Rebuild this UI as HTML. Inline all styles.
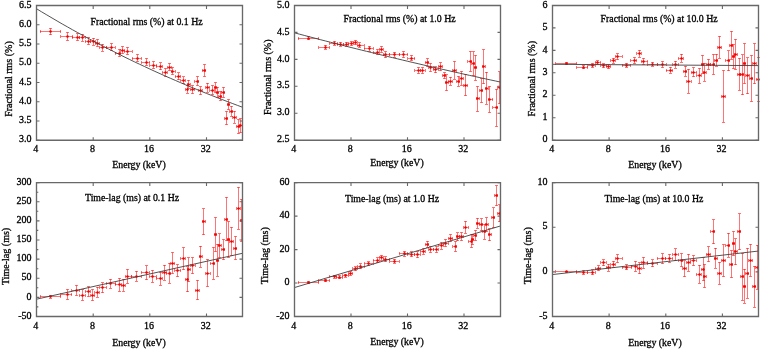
<!DOCTYPE html><html><head><meta charset="utf-8"><style>html,body{margin:0;padding:0;background:#fff;width:760px;height:349px;overflow:hidden}svg{display:block}text{font-family:"Liberation Serif",serif;fill:#000;stroke:#000;stroke-width:0.3px}svg{will-change:transform}</style></head><body>
<svg width="760" height="349" viewBox="0 0 760 349">
<path d="M40.0 31.5H60.8M50.5 28.3V34.9M49.0 28.5H52.0M49.0 34.5H52.0M40.5 30.0V33.0M60.5 30.0V33.0M60.8 36.5H72.0M67.5 32.4V40.4M66.0 32.5H69.0M66.0 40.5H69.0M60.5 35.0V38.0M72.5 35.0V38.0M72.0 37.5H79.7M77.5 33.5V40.5M76.0 33.5H79.0M76.0 40.5H79.0M72.5 36.0V39.0M79.5 36.0V39.0M79.7 37.5H85.2M82.5 34.1V41.1M81.0 34.5H84.0M81.0 41.5H84.0M79.5 36.0V39.0M85.5 36.0V39.0M85.2 41.5H90.5M88.5 37.5V44.5M87.0 37.5H90.0M87.0 44.5H90.0M85.5 40.0V43.0M90.5 40.0V43.0M90.5 41.5H95.0M93.5 38.1V45.1M92.0 38.5H95.0M92.0 45.5H95.0M90.5 40.0V43.0M95.5 40.0V43.0M95.0 43.5H99.5M97.5 39.5V46.5M96.0 39.5H99.0M96.0 46.5H99.0M95.5 42.0V45.0M99.5 42.0V45.0M99.5 47.5H106.5M102.5 44.1V51.1M101.0 44.5H104.0M101.0 51.5H104.0M99.5 46.0V49.0M106.5 46.0V49.0M106.5 47.5H115.0M111.5 43.5V50.5M110.0 43.5H113.0M110.0 50.5H113.0M106.5 46.0V49.0M115.5 46.0V49.0M115.0 53.5H120.7M119.5 49.5V56.5M118.0 49.5H121.0M118.0 56.5H121.0M115.5 52.0V55.0M120.5 52.0V55.0M120.7 50.5H124.7M122.5 46.5V53.5M121.0 46.5H124.0M121.0 53.5H124.0M120.5 49.0V52.0M124.5 49.0V52.0M124.7 51.5H132.0M127.5 47.5V54.5M126.0 47.5H129.0M126.0 54.5H129.0M124.5 50.0V53.0M132.5 50.0V53.0M132.0 58.5H141.5M137.5 54.5V61.5M136.0 54.5H139.0M136.0 61.5H139.0M132.5 57.0V60.0M141.5 57.0V60.0M141.5 62.5H149.8M146.5 58.5V65.5M145.0 58.5H148.0M145.0 65.5H148.0M141.5 61.0V64.0M149.5 61.0V64.0M149.8 65.5H156.8M153.5 61.5V68.5M152.0 61.5H155.0M152.0 68.5H155.0M149.5 64.0V67.0M156.5 64.0V67.0M156.8 66.5H162.5M160.5 62.9V69.9M159.0 62.5H162.0M159.0 69.5H162.0M156.5 65.0V68.0M162.5 65.0V68.0M162.5 72.5H167.3M165.5 68.4V76.4M164.0 68.5H167.0M164.0 76.5H167.0M162.5 71.0V74.0M167.5 71.0V74.0M167.3 67.5H171.0M169.5 63.5V70.5M168.0 63.5H171.0M168.0 70.5H171.0M167.5 66.0V69.0M171.5 66.0V69.0M171.0 71.5H175.2M172.5 67.5V74.5M171.0 67.5H174.0M171.0 74.5H174.0M171.5 70.0V73.0M175.5 70.0V73.0M175.2 76.5H180.8M178.5 72.9V79.9M177.0 72.5H180.0M177.0 79.5H180.0M175.5 75.0V78.0M180.5 75.0V78.0M180.8 80.5H185.5M183.5 76.9V83.9M182.0 76.5H185.0M182.0 83.5H185.0M180.5 79.0V82.0M185.5 79.0V82.0M185.5 89.5H187.7M187.5 85.0V93.0M186.0 85.5H189.0M186.0 93.5H189.0M185.5 88.0V91.0M187.5 88.0V91.0M187.7 84.5H190.2M188.5 80.0V88.0M187.0 80.5H190.0M187.0 88.5H190.0M187.5 83.0V86.0M190.5 83.0V86.0M190.2 89.5H194.7M192.5 85.6V93.6M191.0 85.5H194.0M191.0 93.5H194.0M190.5 88.0V91.0M194.5 88.0V91.0M194.7 81.5H198.5M197.5 76.5V85.5M196.0 76.5H199.0M196.0 85.5H199.0M194.5 80.0V83.0M198.5 80.0V83.0M198.5 90.5H202.0M200.5 86.6V94.6M199.0 86.5H202.0M199.0 94.5H202.0M198.5 89.0V92.0M202.5 89.0V92.0M202.0 70.5H205.7M204.5 64.5V76.5M203.0 64.5H206.0M203.0 76.5H206.0M202.5 69.0V72.0M205.5 69.0V72.0M205.7 87.5H209.9M207.5 83.1V92.1M206.0 83.5H209.0M206.0 92.5H209.0M205.5 86.0V89.0M209.5 86.0V89.0M209.9 90.5H214.0M212.5 85.5V94.5M211.0 85.5H214.0M211.0 94.5H214.0M209.5 89.0V92.0M214.5 89.0V92.0M214.0 87.5H216.5M215.5 82.6V92.6M214.0 82.5H217.0M214.0 92.5H217.0M214.5 86.0V89.0M216.5 86.0V89.0M216.5 92.5H218.7M217.5 87.0V97.0M216.0 87.5H219.0M216.0 97.5H219.0M216.5 91.0V94.0M218.5 91.0V94.0M218.7 96.5H221.5M220.5 91.5V100.5M219.0 91.5H222.0M219.0 100.5H222.0M218.5 95.0V98.0M221.5 95.0V98.0M221.5 92.5H224.7M223.5 87.4V97.4M222.0 87.5H225.0M222.0 97.5H225.0M221.5 91.0V94.0M224.5 91.0V94.0M224.7 118.5H227.2M226.5 111.4V124.6M225.0 111.5H228.0M225.0 124.5H228.0M224.5 117.0V120.0M227.5 117.0V120.0M227.2 104.5H229.6M228.5 99.6V109.6M227.0 99.5H230.0M227.0 109.5H230.0M227.5 103.0V106.0M229.5 103.0V106.0M229.6 111.5H232.9M231.5 106.2V116.2M230.0 106.5H233.0M230.0 116.5H233.0M229.5 110.0V113.0M232.5 110.0V113.0M232.9 117.5H236.4M234.5 111.0V123.0M233.0 111.5H236.0M233.0 123.5H236.0M232.5 116.0V119.0M236.5 116.0V119.0M236.4 126.5H239.4M238.5 119.5V133.5M237.0 119.5H240.0M237.0 133.5H240.0M236.5 125.0V128.0M239.5 125.0V128.0M239.4 125.5H242.2M240.5 118.7V132.7M239.0 118.5H242.0M239.0 132.5H242.0M239.5 124.0V127.0" stroke="#ff0000" stroke-width="0.75" fill="none" opacity="0.72"/>
<g fill="#f00000"><circle cx="50.5" cy="31.5" r="1.25"/><circle cx="67.5" cy="36.5" r="1.25"/><circle cx="77.5" cy="37.5" r="1.25"/><circle cx="82.5" cy="37.5" r="1.25"/><circle cx="88.5" cy="41.5" r="1.25"/><circle cx="93.5" cy="41.5" r="1.25"/><circle cx="97.5" cy="43.5" r="1.25"/><circle cx="102.5" cy="47.5" r="1.25"/><circle cx="111.5" cy="47.5" r="1.25"/><circle cx="119.5" cy="53.5" r="1.25"/><circle cx="122.5" cy="50.5" r="1.25"/><circle cx="127.5" cy="51.5" r="1.25"/><circle cx="137.5" cy="58.5" r="1.25"/><circle cx="146.5" cy="62.5" r="1.25"/><circle cx="153.5" cy="65.5" r="1.25"/><circle cx="160.5" cy="66.5" r="1.25"/><circle cx="165.5" cy="72.5" r="1.25"/><circle cx="169.5" cy="67.5" r="1.25"/><circle cx="172.5" cy="71.5" r="1.25"/><circle cx="178.5" cy="76.5" r="1.25"/><circle cx="183.5" cy="80.5" r="1.25"/><circle cx="187.5" cy="89.5" r="1.25"/><circle cx="188.5" cy="84.5" r="1.25"/><circle cx="192.5" cy="89.5" r="1.25"/><circle cx="197.5" cy="81.5" r="1.25"/><circle cx="200.5" cy="90.5" r="1.25"/><circle cx="204.5" cy="70.5" r="1.25"/><circle cx="207.5" cy="87.5" r="1.25"/><circle cx="212.5" cy="90.5" r="1.25"/><circle cx="215.5" cy="87.5" r="1.25"/><circle cx="217.5" cy="92.5" r="1.25"/><circle cx="220.5" cy="96.5" r="1.25"/><circle cx="223.5" cy="92.5" r="1.25"/><circle cx="226.5" cy="118.5" r="1.25"/><circle cx="228.5" cy="104.5" r="1.25"/><circle cx="231.5" cy="111.5" r="1.25"/><circle cx="234.5" cy="117.5" r="1.25"/><circle cx="238.5" cy="126.5" r="1.25"/><circle cx="240.5" cy="125.5" r="1.25"/></g>
<polyline points="36.5,8.72 41.6,11.84 46.8,14.92 52.0,17.97 57.1,20.97 62.2,23.94 67.4,26.87 72.5,29.76 77.7,32.62 82.8,35.44 88.0,38.22 93.2,40.97 98.3,43.69 103.5,46.37 108.6,49.01 113.8,51.62 118.9,54.20 124.0,56.75 129.2,59.27 134.3,61.75 139.5,64.20 144.7,66.62 149.8,69.01 154.9,71.37 160.1,73.70 165.2,76.00 170.4,78.27 175.6,80.52 180.7,82.73 185.8,84.92 191.0,87.08 196.2,89.21 201.3,91.31 206.4,93.39 211.6,95.44 216.8,97.47 221.9,99.47 227.1,101.44 232.2,103.39 237.3,105.32 242.5,107.22" stroke="#404040" stroke-width="0.9" fill="none"/>
<path d="M36.5 5.5H242.5V140.2H36.5Z" stroke="#686868" stroke-width="1.35" fill="none"/>
<path d="M36.5 5.5h3M242.5 5.5h-3M36.5 24.7h3M242.5 24.7h-3M36.5 44.0h3M242.5 44.0h-3M36.5 63.2h3M242.5 63.2h-3M36.5 82.5h3M242.5 82.5h-3M36.5 101.7h3M242.5 101.7h-3M36.5 121.0h3M242.5 121.0h-3M36.5 140.2h3M242.5 140.2h-3M93.2 5.5v3.5M93.2 140.2v-3M149.8 5.5v3.5M149.8 140.2v-3M206.5 5.5v3.5M206.5 140.2v-3" stroke="#686868" stroke-width="1.1" fill="none"/>
<text x="31.5" y="7.6" font-size="10" text-anchor="end">6.5</text>
<text x="31.5" y="26.8" font-size="10" text-anchor="end">6.0</text>
<text x="31.5" y="46.1" font-size="10" text-anchor="end">5.5</text>
<text x="31.5" y="65.3" font-size="10" text-anchor="end">5.0</text>
<text x="31.5" y="84.6" font-size="10" text-anchor="end">4.5</text>
<text x="31.5" y="103.8" font-size="10" text-anchor="end">4.0</text>
<text x="31.5" y="123.1" font-size="10" text-anchor="end">3.5</text>
<text x="31.5" y="142.3" font-size="10" text-anchor="end">3.0</text>
<text x="35.7" y="151.5" font-size="10" text-anchor="middle">4</text>
<text x="92.4" y="151.5" font-size="10" text-anchor="middle">8</text>
<text x="149.0" y="151.5" font-size="10" text-anchor="middle">16</text>
<text x="205.7" y="151.5" font-size="10" text-anchor="middle">32</text>
<text x="139.0" y="167.5" font-size="9.8" text-anchor="middle">Energy (keV)</text>
<text x="90.5" y="24.5" font-size="9.8">Fractional rms (%) at 0.1 Hz</text>
<text transform="translate(11.6 116.8) rotate(-90)" font-size="10">Fractional rms (%)</text>
<path d="M298.0 38.5H318.8M308.5 36.5V39.5M307.0 36.5H310.0M307.0 39.5H310.0M298.5 37.0V40.0M318.5 37.0V40.0M318.8 47.5H329.5M325.5 45.0V49.0M324.0 45.5H327.0M324.0 49.5H327.0M318.5 46.0V49.0M329.5 46.0V49.0M329.5 43.5H337.0M334.5 41.0V45.0M333.0 41.5H336.0M333.0 45.5H336.0M329.5 42.0V45.0M337.5 42.0V45.0M337.0 44.5H343.0M340.5 42.0V46.0M339.0 42.5H342.0M339.0 46.5H342.0M337.5 43.0V46.0M343.5 43.0V46.0M343.0 44.5H348.5M346.5 42.0V46.0M345.0 42.5H348.0M345.0 46.5H348.0M343.5 43.0V46.0M348.5 43.0V46.0M348.5 43.5H353.0M351.5 41.6V45.6M350.0 41.5H353.0M350.0 45.5H353.0M348.5 42.0V45.0M353.5 42.0V45.0M353.0 42.5H357.0M355.5 40.4V44.8M354.0 40.5H357.0M354.0 44.5H357.0M353.5 41.0V44.0M357.5 41.0V44.0M357.0 45.5H364.0M359.5 42.8V47.2M358.0 42.5H361.0M358.0 47.5H361.0M357.5 44.0V47.0M364.5 44.0V47.0M364.0 48.5H373.3M369.5 46.1V51.1M368.0 46.5H371.0M368.0 51.5H371.0M364.5 47.0V50.0M373.5 47.0V50.0M373.3 52.5H379.3M377.5 49.5V54.5M376.0 49.5H379.0M376.0 54.5H379.0M373.5 51.0V54.0M379.5 51.0V54.0M379.3 49.5H383.0M381.5 46.4V52.4M380.0 46.5H383.0M380.0 52.5H383.0M379.5 48.0V51.0M383.5 48.0V51.0M383.0 54.5H389.7M385.5 51.6V57.6M384.0 51.5H387.0M384.0 57.5H387.0M383.5 53.0V56.0M389.5 53.0V56.0M389.7 54.5H399.1M394.5 52.1V57.1M393.0 52.5H396.0M393.0 57.5H396.0M389.5 53.0V56.0M399.5 53.0V56.0M399.1 54.5H407.9M403.5 51.5V57.5M402.0 51.5H405.0M402.0 57.5H405.0M399.5 53.0V56.0M407.5 53.0V56.0M407.9 58.5H414.9M411.5 55.5V60.5M410.0 55.5H413.0M410.0 60.5H413.0M407.5 57.0V60.0M414.5 57.0V60.0M414.9 70.5H420.4M418.5 67.5V73.5M417.0 67.5H420.0M417.0 73.5H420.0M414.5 69.0V72.0M420.5 69.0V72.0M420.4 70.5H425.0M422.5 67.5V73.5M421.0 67.5H424.0M421.0 73.5H424.0M420.5 69.0V72.0M425.5 69.0V72.0M425.0 62.5H428.7M427.5 58.6V66.6M426.0 58.5H429.0M426.0 66.5H429.0M425.5 61.0V64.0M428.5 61.0V64.0M428.7 67.5H433.0M430.5 63.5V71.5M429.0 63.5H432.0M429.0 71.5H432.0M428.5 66.0V69.0M433.5 66.0V69.0M433.0 69.5H438.4M435.5 66.8V72.8M434.0 66.5H437.0M434.0 72.5H437.0M433.5 68.0V71.0M438.5 68.0V71.0M438.4 66.5H442.5M440.5 62.7V70.7M439.0 62.5H442.0M439.0 70.5H442.0M438.5 65.0V68.0M442.5 65.0V68.0M442.5 75.5H445.1M444.5 72.6V78.6M443.0 72.5H446.0M443.0 78.5H446.0M442.5 74.0V77.0M445.5 74.0V77.0M445.1 82.5H448.2M446.5 74.8V90.6M445.0 74.5H448.0M445.0 90.5H448.0M445.5 81.0V84.0M448.5 81.0V84.0M448.2 81.5H452.5M450.5 77.0V85.0M449.0 77.5H452.0M449.0 85.5H452.0M448.5 80.0V83.0M452.5 80.0V83.0M452.5 70.5H456.4M454.5 61.4V79.0M453.0 61.5H456.0M453.0 79.5H456.0M452.5 69.0V72.0M456.5 69.0V72.0M456.4 81.5H459.9M458.5 76.2V86.2M457.0 76.5H460.0M457.0 86.5H460.0M456.5 80.0V83.0M459.5 80.0V83.0M459.9 78.5H463.4M461.5 71.3V85.3M460.0 71.5H463.0M460.0 85.5H463.0M459.5 77.0V80.0M463.5 77.0V80.0M463.4 85.5H467.9M465.5 74.3V95.7M464.0 74.5H467.0M464.0 95.5H467.0M463.5 84.0V87.0M467.5 84.0V87.0M467.9 61.5H471.8M470.5 51.4V71.4M469.0 51.5H472.0M469.0 71.5H472.0M467.5 60.0V63.0M471.5 60.0V63.0M471.8 63.5H474.0M473.5 51.7V75.7M472.0 51.5H475.0M472.0 75.5H475.0M471.5 62.0V65.0M474.5 62.0V65.0M474.0 67.5H476.4M475.5 55.3V80.3M474.0 55.5H477.0M474.0 80.5H477.0M474.5 66.0V69.0M476.5 66.0V69.0M476.4 98.5H479.6M477.5 86.4V111.4M476.0 86.5H479.0M476.0 111.5H479.0M476.5 97.0V100.0M479.5 97.0V100.0M479.6 90.5H482.6M481.5 78.5V102.5M480.0 78.5H483.0M480.0 102.5H483.0M479.5 89.0V92.0M482.5 89.0V92.0M482.6 66.5H485.1M483.5 49.7V83.7M482.0 49.5H485.0M482.0 83.5H485.0M482.5 65.0V68.0M485.5 65.0V68.0M485.1 88.5H488.1M486.5 72.0V104.0M485.0 72.5H488.0M485.0 104.5H488.0M485.5 87.0V90.0M488.5 87.0V90.0M488.1 99.5H492.9M489.5 86.4V112.4M488.0 86.5H491.0M488.0 112.5H491.0M488.5 98.0V101.0M492.5 98.0V101.0M492.9 107.5H497.6M496.5 89.2V126.4M495.0 89.5H498.0M495.0 126.5H498.0M492.5 106.0V109.0M497.5 106.0V109.0M497.6 87.5H500.5M499.5 71.7V103.7M498.0 71.5H501.0M498.0 103.5H501.0M497.5 86.0V89.0" stroke="#ff0000" stroke-width="0.75" fill="none" opacity="0.72"/>
<g fill="#f00000"><circle cx="308.5" cy="38.5" r="1.25"/><circle cx="325.5" cy="47.5" r="1.25"/><circle cx="334.5" cy="43.5" r="1.25"/><circle cx="340.5" cy="44.5" r="1.25"/><circle cx="346.5" cy="44.5" r="1.25"/><circle cx="351.5" cy="43.5" r="1.25"/><circle cx="355.5" cy="42.5" r="1.25"/><circle cx="359.5" cy="45.5" r="1.25"/><circle cx="369.5" cy="48.5" r="1.25"/><circle cx="377.5" cy="52.5" r="1.25"/><circle cx="381.5" cy="49.5" r="1.25"/><circle cx="385.5" cy="54.5" r="1.25"/><circle cx="394.5" cy="54.5" r="1.25"/><circle cx="403.5" cy="54.5" r="1.25"/><circle cx="411.5" cy="58.5" r="1.25"/><circle cx="418.5" cy="70.5" r="1.25"/><circle cx="422.5" cy="70.5" r="1.25"/><circle cx="427.5" cy="62.5" r="1.25"/><circle cx="430.5" cy="67.5" r="1.25"/><circle cx="435.5" cy="69.5" r="1.25"/><circle cx="440.5" cy="66.5" r="1.25"/><circle cx="444.5" cy="75.5" r="1.25"/><circle cx="446.5" cy="82.5" r="1.25"/><circle cx="450.5" cy="81.5" r="1.25"/><circle cx="454.5" cy="70.5" r="1.25"/><circle cx="458.5" cy="81.5" r="1.25"/><circle cx="461.5" cy="78.5" r="1.25"/><circle cx="465.5" cy="85.5" r="1.25"/><circle cx="470.5" cy="61.5" r="1.25"/><circle cx="473.5" cy="63.5" r="1.25"/><circle cx="475.5" cy="67.5" r="1.25"/><circle cx="477.5" cy="98.5" r="1.25"/><circle cx="481.5" cy="90.5" r="1.25"/><circle cx="483.5" cy="66.5" r="1.25"/><circle cx="486.5" cy="88.5" r="1.25"/><circle cx="489.5" cy="99.5" r="1.25"/><circle cx="496.5" cy="107.5" r="1.25"/><circle cx="499.5" cy="87.5" r="1.25"/></g>
<polyline points="294.5,32.82 299.6,34.19 304.8,35.56 309.9,36.91 315.1,38.26 320.2,39.61 325.4,40.94 330.6,42.27 335.7,43.58 340.9,44.90 346.0,46.20 351.1,47.50 356.3,48.79 361.4,50.07 366.6,51.34 371.8,52.61 376.9,53.87 382.1,55.13 387.2,56.37 392.4,57.61 397.5,58.84 402.6,60.07 407.8,61.29 412.9,62.50 418.1,63.70 423.2,64.90 428.4,66.09 433.6,67.27 438.7,68.45 443.9,69.62 449.0,70.79 454.1,71.94 459.3,73.09 464.4,74.24 469.6,75.38 474.8,76.51 479.9,77.63 485.1,78.75 490.2,79.86 495.4,80.97 500.5,82.07" stroke="#404040" stroke-width="0.9" fill="none"/>
<path d="M294.5 5.5H500.5V140.2H294.5Z" stroke="#686868" stroke-width="1.35" fill="none"/>
<path d="M294.5 5.5h3M500.5 5.5h-3M294.5 32.4h3M500.5 32.4h-3M294.5 59.4h3M500.5 59.4h-3M294.5 86.3h3M500.5 86.3h-3M294.5 113.3h3M500.5 113.3h-3M294.5 140.2h3M500.5 140.2h-3M351.0 5.5v3.5M351.0 140.2v-3M407.5 5.5v3.5M407.5 140.2v-3M464.0 5.5v3.5M464.0 140.2v-3" stroke="#686868" stroke-width="1.1" fill="none"/>
<text x="289.5" y="7.6" font-size="10" text-anchor="end">5.0</text>
<text x="289.5" y="34.5" font-size="10" text-anchor="end">4.5</text>
<text x="289.5" y="61.5" font-size="10" text-anchor="end">4.0</text>
<text x="289.5" y="88.4" font-size="10" text-anchor="end">3.5</text>
<text x="289.5" y="115.4" font-size="10" text-anchor="end">3.0</text>
<text x="289.5" y="142.3" font-size="10" text-anchor="end">2.5</text>
<text x="293.7" y="151.5" font-size="10" text-anchor="middle">4</text>
<text x="350.2" y="151.5" font-size="10" text-anchor="middle">8</text>
<text x="406.7" y="151.5" font-size="10" text-anchor="middle">16</text>
<text x="463.2" y="151.5" font-size="10" text-anchor="middle">32</text>
<text x="397.0" y="165.8" font-size="9.8" text-anchor="middle">Energy (keV)</text>
<text x="343.5" y="21.5" font-size="9.8">Fractional rms (%) at 1.0 Hz</text>
<text transform="translate(270.5 115) rotate(-90)" font-size="10">Fractional rms (%)</text>
<path d="M555.8 63.5H576.6M566.5 62.9V64.9M565.0 62.5H568.0M565.0 64.5H568.0M555.5 62.0V65.0M576.5 62.0V65.0M576.6 67.5H587.9M583.5 65.6V68.6M582.0 65.5H585.0M582.0 68.5H585.0M576.5 66.0V69.0M587.5 66.0V69.0M587.9 65.5H595.1M592.5 63.4V67.4M591.0 63.5H594.0M591.0 67.5H594.0M587.5 64.0V67.0M595.5 64.0V67.0M595.1 62.5H600.7M597.5 60.8V64.8M596.0 60.5H599.0M596.0 64.5H599.0M595.5 61.0V64.0M600.5 61.0V64.0M600.7 65.5H606.0M603.5 63.9V67.9M602.0 63.5H605.0M602.0 67.5H605.0M600.5 64.0V67.0M606.5 64.0V67.0M606.0 66.5H610.8M608.5 64.6V68.6M607.0 64.5H610.0M607.0 68.5H610.0M606.5 65.0V68.0M610.5 65.0V68.0M610.8 60.5H615.3M613.5 58.0V63.0M612.0 58.5H615.0M612.0 63.5H615.0M610.5 59.0V62.0M615.5 59.0V62.0M615.3 56.5H622.0M617.5 53.7V59.7M616.0 53.5H619.0M616.0 59.5H619.0M615.5 55.0V58.0M622.5 55.0V58.0M622.0 65.5H630.7M626.5 63.1V67.1M625.0 63.5H628.0M625.0 67.5H628.0M622.5 64.0V67.0M630.5 64.0V67.0M630.7 60.5H637.0M634.5 57.5V63.5M633.0 57.5H636.0M633.0 63.5H636.0M630.5 59.0V62.0M636.5 59.0V62.0M637.0 53.5H641.1M639.5 50.2V57.2M638.0 50.5H641.0M638.0 57.5H641.0M636.5 52.0V55.0M641.5 52.0V55.0M641.1 61.5H647.8M643.5 58.3V64.3M642.0 58.5H645.0M642.0 64.5H645.0M641.5 60.0V63.0M647.5 60.0V63.0M647.8 64.5H657.2M652.5 62.0V66.0M651.0 62.5H654.0M651.0 66.5H654.0M647.5 63.0V66.0M657.5 63.0V66.0M657.2 64.5H666.0M662.5 61.5V67.5M661.0 61.5H664.0M661.0 67.5H664.0M657.5 63.0V66.0M666.5 63.0V66.0M666.0 70.5H672.9M670.5 67.0V73.0M669.0 67.5H672.0M669.0 73.5H672.0M666.5 69.0V72.0M672.5 69.0V72.0M672.9 64.5H678.4M675.5 61.0V68.0M674.0 61.5H677.0M674.0 68.5H677.0M672.5 63.0V66.0M678.5 63.0V66.0M678.4 58.5H683.1M681.5 54.0V62.0M680.0 54.5H683.0M680.0 62.5H683.0M678.5 57.0V60.0M683.5 57.0V60.0M683.1 71.5H686.8M685.5 66.2V76.2M684.0 66.5H687.0M684.0 76.5H687.0M683.5 70.0V73.0M686.5 70.0V73.0M686.8 81.5H691.1M688.5 69.1V93.1M687.0 69.5H690.0M687.0 93.5H690.0M686.5 80.0V83.0M691.5 80.0V83.0M691.1 72.5H696.6M693.5 67.7V76.7M692.0 67.5H695.0M692.0 76.5H695.0M691.5 71.0V74.0M696.5 71.0V74.0M696.6 75.5H701.1M699.5 68.4V83.4M698.0 68.5H701.0M698.0 83.5H701.0M696.5 74.0V77.0M701.5 74.0V77.0M701.1 64.5H703.5M702.5 55.4V73.4M701.0 55.5H704.0M701.0 73.5H704.0M701.5 63.0V66.0M703.5 63.0V66.0M703.5 72.5H706.1M704.5 63.0V81.0M703.0 63.5H706.0M703.0 81.5H706.0M703.5 71.0V74.0M706.5 71.0V74.0M706.1 64.5H710.5M708.5 59.3V69.3M707.0 59.5H710.0M707.0 69.5H710.0M706.5 63.0V66.0M710.5 63.0V66.0M710.5 64.5H714.5M713.5 54.4V74.4M712.0 54.5H715.0M712.0 74.5H715.0M710.5 63.0V66.0M714.5 63.0V66.0M714.5 60.5H717.8M716.5 54.0V66.0M715.0 54.5H718.0M715.0 66.5H718.0M714.5 59.0V62.0M717.5 59.0V62.0M717.8 47.5H721.4M719.5 36.2V58.2M718.0 36.5H721.0M718.0 58.5H721.0M717.5 46.0V49.0M721.5 46.0V49.0M721.4 96.5H725.5M723.5 70.6V122.2M722.0 70.5H725.0M722.0 122.5H725.0M721.5 95.0V98.0M725.5 95.0V98.0M725.5 60.5H729.5M728.5 50.9V70.9M727.0 50.5H730.0M727.0 70.5H730.0M725.5 59.0V62.0M729.5 59.0V62.0M729.5 45.5H732.1M731.5 31.2V59.2M730.0 31.5H733.0M730.0 59.5H733.0M729.5 44.0V47.0M732.5 44.0V47.0M732.1 56.5H734.5M733.5 44.6V68.6M732.0 44.5H735.0M732.0 68.5H735.0M732.5 55.0V58.0M734.5 55.0V58.0M734.5 54.5H737.4M735.5 39.3V69.3M734.0 39.5H737.0M734.0 69.5H737.0M734.5 53.0V56.0M737.5 53.0V56.0M737.4 74.5H740.8M739.5 58.2V90.2M738.0 58.5H741.0M738.0 90.5H741.0M737.5 73.0V76.0M740.5 73.0V76.0M740.8 74.5H743.2M742.5 54.9V94.9M741.0 54.5H744.0M741.0 94.5H744.0M740.5 73.0V76.0M743.5 73.0V76.0M743.2 63.5H745.9M744.5 43.5V83.5M743.0 43.5H746.0M743.0 83.5H746.0M743.5 62.0V65.0M745.5 62.0V65.0M745.9 75.5H749.4M747.5 57.9V93.9M746.0 57.5H749.0M746.0 93.5H749.0M745.5 74.0V77.0M749.5 74.0V77.0M749.4 78.5H752.7M751.5 55.4V101.4M750.0 55.5H753.0M750.0 101.5H753.0M749.5 77.0V80.0M752.5 77.0V80.0M752.7 63.5H756.1M754.5 43.6V83.6M753.0 43.5H756.0M753.0 83.5H756.0M752.5 62.0V65.0M756.5 62.0V65.0M756.1 79.5H758.5M758.5 57.0V101.0M757.0 57.5H760.0M757.0 101.5H760.0M756.5 78.0V81.0" stroke="#ff0000" stroke-width="0.75" fill="none" opacity="0.72"/>
<g fill="#f00000"><circle cx="566.5" cy="63.5" r="1.25"/><circle cx="583.5" cy="67.5" r="1.25"/><circle cx="592.5" cy="65.5" r="1.25"/><circle cx="597.5" cy="62.5" r="1.25"/><circle cx="603.5" cy="65.5" r="1.25"/><circle cx="608.5" cy="66.5" r="1.25"/><circle cx="613.5" cy="60.5" r="1.25"/><circle cx="617.5" cy="56.5" r="1.25"/><circle cx="626.5" cy="65.5" r="1.25"/><circle cx="634.5" cy="60.5" r="1.25"/><circle cx="639.5" cy="53.5" r="1.25"/><circle cx="643.5" cy="61.5" r="1.25"/><circle cx="652.5" cy="64.5" r="1.25"/><circle cx="662.5" cy="64.5" r="1.25"/><circle cx="670.5" cy="70.5" r="1.25"/><circle cx="675.5" cy="64.5" r="1.25"/><circle cx="681.5" cy="58.5" r="1.25"/><circle cx="685.5" cy="71.5" r="1.25"/><circle cx="688.5" cy="81.5" r="1.25"/><circle cx="693.5" cy="72.5" r="1.25"/><circle cx="699.5" cy="75.5" r="1.25"/><circle cx="702.5" cy="64.5" r="1.25"/><circle cx="704.5" cy="72.5" r="1.25"/><circle cx="708.5" cy="64.5" r="1.25"/><circle cx="713.5" cy="64.5" r="1.25"/><circle cx="716.5" cy="60.5" r="1.25"/><circle cx="719.5" cy="47.5" r="1.25"/><circle cx="723.5" cy="96.5" r="1.25"/><circle cx="728.5" cy="60.5" r="1.25"/><circle cx="731.5" cy="45.5" r="1.25"/><circle cx="733.5" cy="56.5" r="1.25"/><circle cx="735.5" cy="54.5" r="1.25"/><circle cx="739.5" cy="74.5" r="1.25"/><circle cx="742.5" cy="74.5" r="1.25"/><circle cx="744.5" cy="63.5" r="1.25"/><circle cx="747.5" cy="75.5" r="1.25"/><circle cx="751.5" cy="78.5" r="1.25"/><circle cx="754.5" cy="63.5" r="1.25"/><circle cx="758.5" cy="79.5" r="1.25"/></g>
<line x1="552.5" y1="64.3" x2="758.5" y2="65.6" stroke="#404040" stroke-width="0.9"/>
<path d="M552.5 5.5H758.5V140.2H552.5Z" stroke="#686868" stroke-width="1.35" fill="none"/>
<path d="M552.5 5.5h3M758.5 5.5h-3M552.5 27.9h3M758.5 27.9h-3M552.5 50.4h3M758.5 50.4h-3M552.5 72.8h3M758.5 72.8h-3M552.5 95.3h3M758.5 95.3h-3M552.5 117.8h3M758.5 117.8h-3M552.5 140.2h3M758.5 140.2h-3M609.1 5.5v3.5M609.1 140.2v-3M665.8 5.5v3.5M665.8 140.2v-3M722.4 5.5v3.5M722.4 140.2v-3" stroke="#686868" stroke-width="1.1" fill="none"/>
<text x="547.5" y="7.6" font-size="10" text-anchor="end">6</text>
<text x="547.5" y="30.0" font-size="10" text-anchor="end">5</text>
<text x="547.5" y="52.5" font-size="10" text-anchor="end">4</text>
<text x="547.5" y="74.9" font-size="10" text-anchor="end">3</text>
<text x="547.5" y="97.4" font-size="10" text-anchor="end">2</text>
<text x="547.5" y="119.8" font-size="10" text-anchor="end">1</text>
<text x="547.5" y="142.3" font-size="10" text-anchor="end">0</text>
<text x="551.7" y="151.5" font-size="10" text-anchor="middle">4</text>
<text x="608.3" y="151.5" font-size="10" text-anchor="middle">8</text>
<text x="665.0" y="151.5" font-size="10" text-anchor="middle">16</text>
<text x="721.6" y="151.5" font-size="10" text-anchor="middle">32</text>
<text x="655.0" y="167.5" font-size="9.8" text-anchor="middle">Energy (keV)</text>
<text x="600.6" y="22" font-size="9.8">Fractional rms (%) at 10.0 Hz</text>
<text transform="translate(534.8 116.5) rotate(-90)" font-size="10">Fractional rms (%)</text>
<path d="M40.1 296.5H60.9M50.5 295.0V298.0M49.0 295.5H52.0M49.0 298.5H52.0M40.5 295.0V298.0M60.5 295.0V298.0M60.9 294.5H71.9M67.5 289.4V299.4M66.0 289.5H69.0M66.0 299.5H69.0M60.5 293.0V296.0M71.5 293.0V296.0M71.9 290.5H79.5M76.5 285.4V295.4M75.0 285.5H78.0M75.0 295.5H78.0M71.5 289.0V292.0M79.5 289.0V292.0M79.5 295.5H85.3M82.5 289.7V300.3M81.0 289.5H84.0M81.0 300.5H84.0M79.5 294.0V297.0M85.5 294.0V297.0M85.3 291.5H90.4M88.5 286.6V296.6M87.0 286.5H90.0M87.0 296.5H90.0M85.5 290.0V293.0M90.5 290.0V293.0M90.4 295.5H94.9M92.5 289.5V300.5M91.0 289.5H94.0M91.0 300.5H94.0M90.5 294.0V297.0M94.5 294.0V297.0M94.9 292.5H99.5M97.5 287.0V297.0M96.0 287.5H99.0M96.0 297.5H99.0M94.5 291.0V294.0M99.5 291.0V294.0M99.5 287.5H106.4M102.5 282.8V292.8M101.0 282.5H104.0M101.0 292.5H104.0M99.5 286.0V289.0M106.5 286.0V289.0M106.4 283.5H115.0M110.5 279.2V288.2M109.0 279.5H112.0M109.0 288.5H112.0M106.5 282.0V285.0M115.5 282.0V285.0M115.0 284.5H121.1M119.5 278.3V291.3M118.0 278.5H121.0M118.0 291.5H121.0M115.5 283.0V286.0M121.5 283.0V286.0M121.1 285.5H125.2M123.5 279.2V291.2M122.0 279.5H125.0M122.0 291.5H125.0M121.5 284.0V287.0M125.5 284.0V287.0M125.2 276.5H131.9M127.5 269.4V283.4M126.0 269.5H129.0M126.0 283.5H129.0M125.5 275.0V278.0M131.5 275.0V278.0M131.9 276.5H141.3M136.5 271.1V281.1M135.0 271.5H138.0M135.0 281.5H138.0M131.5 275.0V278.0M141.5 275.0V278.0M141.3 272.5H149.3M146.5 265.8V279.8M145.0 265.5H148.0M145.0 279.5H148.0M141.5 271.0V274.0M149.5 271.0V274.0M149.3 276.5H156.3M152.5 270.3V282.3M151.0 270.5H154.0M151.0 282.5H154.0M149.5 275.0V278.0M156.5 275.0V278.0M156.3 278.5H162.4M160.5 272.1V285.1M159.0 272.5H162.0M159.0 285.5H162.0M156.5 277.0V280.0M162.5 277.0V280.0M162.4 272.5H166.8M164.5 265.0V280.0M163.0 265.5H166.0M163.0 280.5H166.0M162.5 271.0V274.0M166.5 271.0V274.0M166.8 273.5H170.5M169.5 263.0V283.0M168.0 263.5H171.0M168.0 283.5H171.0M166.5 272.0V275.0M170.5 272.0V275.0M170.5 263.5H174.9M172.5 252.5V273.5M171.0 252.5H174.0M171.0 273.5H174.0M170.5 262.0V265.0M174.5 262.0V265.0M174.9 270.5H180.7M177.5 264.6V276.6M176.0 264.5H179.0M176.0 276.5H179.0M174.5 269.0V272.0M180.5 269.0V272.0M180.7 258.5H185.2M183.5 247.7V269.7M182.0 247.5H185.0M182.0 269.5H185.0M180.5 257.0V260.0M185.5 257.0V260.0M185.2 279.5H187.8M187.5 266.9V291.9M186.0 266.5H189.0M186.0 291.5H189.0M185.5 278.0V281.0M187.5 278.0V281.0M187.8 269.5H190.6M188.5 257.7V281.7M187.0 257.5H190.0M187.0 281.5H190.0M187.5 268.0V271.0M190.5 268.0V271.0M190.6 265.5H195.0M192.5 257.6V273.6M191.0 257.5H194.0M191.0 273.5H194.0M190.5 264.0V267.0M195.5 264.0V267.0M195.0 290.5H199.1M197.5 280.3V299.7M196.0 280.5H199.0M196.0 299.5H199.0M195.5 289.0V292.0M199.5 289.0V292.0M199.1 256.5H202.2M200.5 246.0V267.0M199.0 246.5H202.0M199.0 267.5H202.0M199.5 255.0V258.0M202.5 255.0V258.0M202.2 221.5H205.6M203.5 208.8V234.8M202.0 208.5H205.0M202.0 234.5H205.0M202.5 220.0V223.0M205.5 220.0V223.0M205.6 273.5H210.2M207.5 259.5V286.5M206.0 259.5H209.0M206.0 286.5H209.0M205.5 272.0V275.0M210.5 272.0V275.0M210.2 263.5H214.1M213.5 247.3V279.3M212.0 247.5H215.0M212.0 279.5H215.0M210.5 262.0V265.0M214.5 262.0V265.0M214.1 234.5H216.4M215.5 217.6V251.6M214.0 217.5H217.0M214.0 251.5H217.0M214.5 233.0V236.0M216.5 233.0V236.0M216.4 260.5H218.5M217.5 244.0V276.0M216.0 244.5H219.0M216.0 276.5H219.0M216.5 259.0V262.0M218.5 259.0V262.0M218.5 245.5H221.3M219.5 233.8V257.8M218.0 233.5H221.0M218.0 257.5H221.0M218.5 244.0V247.0M221.5 244.0V247.0M221.3 249.5H224.7M223.5 239.6V259.6M222.0 239.5H225.0M222.0 259.5H225.0M221.5 248.0V251.0M224.5 248.0V251.0M224.7 219.5H227.1M226.5 197.3V240.7M225.0 197.5H228.0M225.0 240.5H228.0M224.5 218.0V221.0M227.5 218.0V221.0M227.1 239.5H229.8M228.5 221.5V257.5M227.0 221.5H230.0M227.0 257.5H230.0M227.5 238.0V241.0M229.5 238.0V241.0M229.8 241.5H233.5M231.5 227.3V255.3M230.0 227.5H233.0M230.0 255.5H233.0M229.5 240.0V243.0M233.5 240.0V243.0M233.5 248.5H236.9M235.5 236.5V259.5M234.0 236.5H237.0M234.0 259.5H237.0M233.5 247.0V250.0M236.5 247.0V250.0M236.9 208.5H240.0M238.5 187.2V229.2M237.0 187.5H240.0M237.0 229.5H240.0M236.5 207.0V210.0M240.5 207.0V210.0M240.0 220.5H242.5M241.5 199.3V241.3M240.0 199.5H243.0M240.0 241.5H243.0M240.5 219.0V222.0" stroke="#ff0000" stroke-width="0.75" fill="none" opacity="0.72"/>
<g fill="#f00000"><circle cx="50.5" cy="296.5" r="1.25"/><circle cx="67.5" cy="294.5" r="1.25"/><circle cx="76.5" cy="290.5" r="1.25"/><circle cx="82.5" cy="295.5" r="1.25"/><circle cx="88.5" cy="291.5" r="1.25"/><circle cx="92.5" cy="295.5" r="1.25"/><circle cx="97.5" cy="292.5" r="1.25"/><circle cx="102.5" cy="287.5" r="1.25"/><circle cx="110.5" cy="283.5" r="1.25"/><circle cx="119.5" cy="284.5" r="1.25"/><circle cx="123.5" cy="285.5" r="1.25"/><circle cx="127.5" cy="276.5" r="1.25"/><circle cx="136.5" cy="276.5" r="1.25"/><circle cx="146.5" cy="272.5" r="1.25"/><circle cx="152.5" cy="276.5" r="1.25"/><circle cx="160.5" cy="278.5" r="1.25"/><circle cx="164.5" cy="272.5" r="1.25"/><circle cx="169.5" cy="273.5" r="1.25"/><circle cx="172.5" cy="263.5" r="1.25"/><circle cx="177.5" cy="270.5" r="1.25"/><circle cx="183.5" cy="258.5" r="1.25"/><circle cx="187.5" cy="279.5" r="1.25"/><circle cx="188.5" cy="269.5" r="1.25"/><circle cx="192.5" cy="265.5" r="1.25"/><circle cx="197.5" cy="290.5" r="1.25"/><circle cx="200.5" cy="256.5" r="1.25"/><circle cx="203.5" cy="221.5" r="1.25"/><circle cx="207.5" cy="273.5" r="1.25"/><circle cx="213.5" cy="263.5" r="1.25"/><circle cx="215.5" cy="234.5" r="1.25"/><circle cx="217.5" cy="260.5" r="1.25"/><circle cx="219.5" cy="245.5" r="1.25"/><circle cx="223.5" cy="249.5" r="1.25"/><circle cx="226.5" cy="219.5" r="1.25"/><circle cx="228.5" cy="239.5" r="1.25"/><circle cx="231.5" cy="241.5" r="1.25"/><circle cx="235.5" cy="248.5" r="1.25"/><circle cx="238.5" cy="208.5" r="1.25"/><circle cx="241.5" cy="220.5" r="1.25"/></g>
<line x1="36" y1="299.3" x2="242" y2="253.4" stroke="#404040" stroke-width="0.9"/>
<path d="M36.5 182.6H242.5V316.5H36.5Z" stroke="#686868" stroke-width="1.35" fill="none"/>
<path d="M36.5 182.6h3M242.5 182.6h-3M36.5 201.7h3M242.5 201.7h-3M36.5 220.9h3M242.5 220.9h-3M36.5 240.0h3M242.5 240.0h-3M36.5 259.1h3M242.5 259.1h-3M36.5 278.2h3M242.5 278.2h-3M36.5 297.4h3M242.5 297.4h-3M36.5 316.5h3M242.5 316.5h-3M36.5 192.2h1.8M36.5 211.3h1.8M36.5 230.4h1.8M36.5 249.6h1.8M36.5 268.7h1.8M36.5 287.8h1.8M36.5 306.9h1.8M93.2 182.6v3.5M93.2 316.5v-3M149.8 182.6v3.5M149.8 316.5v-3M206.5 182.6v3.5M206.5 316.5v-3" stroke="#686868" stroke-width="1.1" fill="none"/>
<text x="31.5" y="184.7" font-size="10" text-anchor="end">300</text>
<text x="31.5" y="203.8" font-size="10" text-anchor="end">250</text>
<text x="31.5" y="223.0" font-size="10" text-anchor="end">200</text>
<text x="31.5" y="242.1" font-size="10" text-anchor="end">150</text>
<text x="31.5" y="261.2" font-size="10" text-anchor="end">100</text>
<text x="31.5" y="280.3" font-size="10" text-anchor="end">50</text>
<text x="31.5" y="299.5" font-size="10" text-anchor="end">0</text>
<text x="31.5" y="318.6" font-size="10" text-anchor="end">-50</text>
<text x="35.7" y="328.9" font-size="10" text-anchor="middle">4</text>
<text x="92.4" y="328.9" font-size="10" text-anchor="middle">8</text>
<text x="149.0" y="328.9" font-size="10" text-anchor="middle">16</text>
<text x="205.7" y="328.9" font-size="10" text-anchor="middle">32</text>
<text x="139.0" y="345.8" font-size="9.8" text-anchor="middle">Energy (keV)</text>
<text x="85" y="200.5" font-size="9.8">Time-lag (ms) at 0.1 Hz</text>
<text transform="translate(9.3 285) rotate(-90)" font-size="10">Time-lag (ms)</text>
<path d="M298.1 282.5H318.9M308.5 281.7V283.7M307.0 281.5H310.0M307.0 283.5H310.0M298.5 281.0V284.0M318.5 281.0V284.0M318.9 280.5H329.6M325.5 279.4V281.4M324.0 279.5H327.0M324.0 281.5H327.0M318.5 279.0V282.0M329.5 279.0V282.0M329.6 276.5H336.8M334.5 275.1V278.1M333.0 275.5H336.0M333.0 278.5H336.0M329.5 275.0V278.0M336.5 275.0V278.0M336.8 277.5H342.7M339.5 275.5V278.5M338.0 275.5H341.0M338.0 278.5H341.0M336.5 276.0V279.0M342.5 276.0V279.0M342.7 275.5H348.4M345.5 274.0V277.0M344.0 274.5H347.0M344.0 277.5H347.0M342.5 274.0V277.0M348.5 274.0V277.0M348.4 273.5H352.9M350.5 271.5V275.5M349.0 271.5H352.0M349.0 275.5H352.0M348.5 272.0V275.0M352.5 272.0V275.0M352.9 268.5H357.5M355.5 266.9V270.9M354.0 266.5H357.0M354.0 270.5H357.0M352.5 267.0V270.0M357.5 267.0V270.0M357.5 266.5H364.4M360.5 263.8V268.8M359.0 263.5H362.0M359.0 268.5H362.0M357.5 265.0V268.0M364.5 265.0V268.0M364.4 263.5H373.0M368.5 261.9V265.9M367.0 261.5H370.0M367.0 265.5H370.0M364.5 262.0V265.0M373.5 262.0V265.0M373.0 260.5H379.1M377.5 257.7V262.7M376.0 257.5H379.0M376.0 262.5H379.0M373.5 259.0V262.0M379.5 259.0V262.0M379.1 257.5H383.1M381.5 255.3V260.3M380.0 255.5H383.0M380.0 260.5H383.0M379.5 256.0V259.0M383.5 256.0V259.0M383.1 259.5H389.9M385.5 256.8V261.8M384.0 256.5H387.0M384.0 261.5H387.0M383.5 258.0V261.0M389.5 258.0V261.0M389.9 261.5H399.2M394.5 259.1V263.1M393.0 259.5H396.0M393.0 263.5H396.0M389.5 260.0V263.0M399.5 260.0V263.0M399.2 253.5H407.8M404.5 251.3V256.3M403.0 251.5H406.0M403.0 256.5H406.0M399.5 252.0V255.0M407.5 252.0V255.0M407.8 254.5H414.6M411.5 251.8V256.8M410.0 251.5H413.0M410.0 256.5H413.0M407.5 253.0V256.0M414.5 253.0V256.0M414.6 254.5H420.4M417.5 251.8V257.8M416.0 251.5H419.0M416.0 257.5H419.0M414.5 253.0V256.0M420.5 253.0V256.0M420.4 251.5H425.1M423.5 248.3V254.3M422.0 248.5H425.0M422.0 254.5H425.0M420.5 250.0V253.0M425.5 250.0V253.0M425.1 244.5H428.8M427.5 241.1V247.1M426.0 241.5H429.0M426.0 247.5H429.0M425.5 243.0V246.0M428.5 243.0V246.0M428.8 249.5H433.1M430.5 246.4V252.4M429.0 246.5H432.0M429.0 252.5H432.0M428.5 248.0V251.0M433.5 248.0V251.0M433.1 249.5H438.6M436.5 246.4V252.4M435.0 246.5H438.0M435.0 252.5H438.0M433.5 248.0V251.0M438.5 248.0V251.0M438.6 245.5H443.6M441.5 242.1V249.1M440.0 242.5H443.0M440.0 249.5H443.0M438.5 244.0V247.0M443.5 244.0V247.0M443.6 243.5H448.4M445.5 239.5V246.5M444.0 239.5H447.0M444.0 246.5H447.0M443.5 242.0V245.0M448.5 242.0V245.0M448.4 238.5H453.0M450.5 234.5V241.5M449.0 234.5H452.0M449.0 241.5H452.0M448.5 237.0V240.0M452.5 237.0V240.0M453.0 246.5H456.5M455.5 241.4V251.4M454.0 241.5H457.0M454.0 251.5H457.0M452.5 245.0V248.0M456.5 245.0V248.0M456.5 236.5H459.9M457.5 232.9V240.9M456.0 232.5H459.0M456.0 240.5H459.0M456.5 235.0V238.0M459.5 235.0V238.0M459.9 236.5H463.8M461.5 232.5V240.5M460.0 232.5H463.0M460.0 240.5H463.0M459.5 235.0V238.0M463.5 235.0V238.0M463.8 227.5H468.4M465.5 221.2V233.2M464.0 221.5H467.0M464.0 233.5H467.0M463.5 226.0V229.0M468.5 226.0V229.0M468.4 241.5H471.9M471.5 234.5V247.5M470.0 234.5H473.0M470.0 247.5H473.0M468.5 240.0V243.0M471.5 240.0V243.0M471.9 239.5H473.9M472.5 234.5V244.5M471.0 234.5H474.0M471.0 244.5H474.0M471.5 238.0V241.0M473.5 238.0V241.0M473.9 235.5H476.4M475.5 230.4V240.4M474.0 230.5H477.0M474.0 240.5H477.0M473.5 234.0V237.0M476.5 234.0V237.0M476.4 223.5H479.5M477.5 218.2V228.2M476.0 218.5H479.0M476.0 228.5H479.0M476.5 222.0V225.0M479.5 222.0V225.0M479.5 224.5H482.9M481.5 218.7V230.7M480.0 218.5H483.0M480.0 230.5H483.0M479.5 223.0V226.0M482.5 223.0V226.0M482.9 231.5H485.4M484.5 224.2V239.2M483.0 224.5H486.0M483.0 239.5H486.0M482.5 230.0V233.0M485.5 230.0V233.0M485.4 224.5H488.1M486.5 217.7V231.7M485.0 217.5H488.0M485.0 231.5H488.0M485.5 223.0V226.0M488.5 223.0V226.0M488.1 234.5H491.5M489.5 228.9V240.9M488.0 228.5H491.0M488.0 240.5H491.0M488.5 233.0V236.0M491.5 233.0V236.0M491.5 217.5H494.6M493.5 207.9V227.9M492.0 207.5H495.0M492.0 227.5H495.0M491.5 216.0V219.0M494.5 216.0V219.0M494.6 195.5H497.5M496.5 185.7V205.7M495.0 185.5H498.0M495.0 205.5H498.0M494.5 194.0V197.0M497.5 194.0V197.0M497.5 213.5H500.5M499.5 204.8V221.8M498.0 204.5H501.0M498.0 221.5H501.0M497.5 212.0V215.0" stroke="#ff0000" stroke-width="0.75" fill="none" opacity="0.72"/>
<g fill="#f00000"><circle cx="308.5" cy="282.5" r="1.25"/><circle cx="325.5" cy="280.5" r="1.25"/><circle cx="334.5" cy="276.5" r="1.25"/><circle cx="339.5" cy="277.5" r="1.25"/><circle cx="345.5" cy="275.5" r="1.25"/><circle cx="350.5" cy="273.5" r="1.25"/><circle cx="355.5" cy="268.5" r="1.25"/><circle cx="360.5" cy="266.5" r="1.25"/><circle cx="368.5" cy="263.5" r="1.25"/><circle cx="377.5" cy="260.5" r="1.25"/><circle cx="381.5" cy="257.5" r="1.25"/><circle cx="385.5" cy="259.5" r="1.25"/><circle cx="394.5" cy="261.5" r="1.25"/><circle cx="404.5" cy="253.5" r="1.25"/><circle cx="411.5" cy="254.5" r="1.25"/><circle cx="417.5" cy="254.5" r="1.25"/><circle cx="423.5" cy="251.5" r="1.25"/><circle cx="427.5" cy="244.5" r="1.25"/><circle cx="430.5" cy="249.5" r="1.25"/><circle cx="436.5" cy="249.5" r="1.25"/><circle cx="441.5" cy="245.5" r="1.25"/><circle cx="445.5" cy="243.5" r="1.25"/><circle cx="450.5" cy="238.5" r="1.25"/><circle cx="455.5" cy="246.5" r="1.25"/><circle cx="457.5" cy="236.5" r="1.25"/><circle cx="461.5" cy="236.5" r="1.25"/><circle cx="465.5" cy="227.5" r="1.25"/><circle cx="471.5" cy="241.5" r="1.25"/><circle cx="472.5" cy="239.5" r="1.25"/><circle cx="475.5" cy="235.5" r="1.25"/><circle cx="477.5" cy="223.5" r="1.25"/><circle cx="481.5" cy="224.5" r="1.25"/><circle cx="484.5" cy="231.5" r="1.25"/><circle cx="486.5" cy="224.5" r="1.25"/><circle cx="489.5" cy="234.5" r="1.25"/><circle cx="493.5" cy="217.5" r="1.25"/><circle cx="496.5" cy="195.5" r="1.25"/><circle cx="499.5" cy="213.5" r="1.25"/></g>
<line x1="294" y1="287.7" x2="501" y2="225.8" stroke="#404040" stroke-width="0.9"/>
<path d="M294.5 182.6H500.5V316.5H294.5Z" stroke="#686868" stroke-width="1.35" fill="none"/>
<path d="M294.5 182.6h3M500.5 182.6h-3M294.5 216.1h3M500.5 216.1h-3M294.5 249.6h3M500.5 249.6h-3M294.5 283.0h3M500.5 283.0h-3M294.5 316.5h3M500.5 316.5h-3M351.0 182.6v3.5M351.0 316.5v-3M407.5 182.6v3.5M407.5 316.5v-3M464.0 182.6v3.5M464.0 316.5v-3" stroke="#686868" stroke-width="1.1" fill="none"/>
<text x="289.5" y="184.7" font-size="10" text-anchor="end">60</text>
<text x="289.5" y="218.2" font-size="10" text-anchor="end">40</text>
<text x="289.5" y="251.7" font-size="10" text-anchor="end">20</text>
<text x="289.5" y="285.1" font-size="10" text-anchor="end">0</text>
<text x="289.5" y="318.6" font-size="10" text-anchor="end">-20</text>
<text x="293.7" y="328.9" font-size="10" text-anchor="middle">4</text>
<text x="350.2" y="328.9" font-size="10" text-anchor="middle">8</text>
<text x="406.7" y="328.9" font-size="10" text-anchor="middle">16</text>
<text x="463.2" y="328.9" font-size="10" text-anchor="middle">32</text>
<text x="397.0" y="344.8" font-size="9.8" text-anchor="middle">Energy (keV)</text>
<text x="345" y="201.8" font-size="9.8">Time-lag (ms) at 1.0 Hz</text>
<text transform="translate(267.8 284.3) rotate(-90)" font-size="10">Time-lag (ms)</text>
<path d="M555.8 271.5H576.6M566.5 271.0V272.6M565.0 271.5H568.0M565.0 272.5H568.0M555.5 270.0V273.0M576.5 270.0V273.0M576.6 272.5H587.9M583.5 270.4V274.4M582.0 270.5H585.0M582.0 274.5H585.0M576.5 271.0V274.0M587.5 271.0V274.0M587.9 272.5H595.3M592.5 269.9V274.9M591.0 269.5H594.0M591.0 274.5H594.0M587.5 271.0V274.0M595.5 271.0V274.0M595.3 268.5H600.9M598.5 265.7V270.7M597.0 265.5H600.0M597.0 270.5H600.0M595.5 267.0V270.0M600.5 267.0V270.0M600.9 262.5H606.2M603.5 259.9V265.9M602.0 259.5H605.0M602.0 265.5H605.0M600.5 261.0V264.0M606.5 261.0V264.0M606.2 267.5H611.0M608.5 264.0V271.0M607.0 264.5H610.0M607.0 271.5H610.0M606.5 266.0V269.0M610.5 266.0V269.0M611.0 264.5H615.4M613.5 261.1V267.1M612.0 261.5H615.0M612.0 267.5H615.0M610.5 263.0V266.0M615.5 263.0V266.0M615.4 258.5H622.2M617.5 254.6V262.6M616.0 254.5H619.0M616.0 262.5H619.0M615.5 257.0V260.0M622.5 257.0V260.0M622.2 267.5H631.0M626.5 264.7V269.7M625.0 264.5H628.0M625.0 269.5H628.0M622.5 266.0V269.0M631.5 266.0V269.0M631.0 266.5H637.1M635.5 261.3V271.3M634.0 261.5H637.0M634.0 271.5H637.0M631.5 265.0V268.0M637.5 265.0V268.0M637.1 268.5H641.1M639.5 262.7V273.7M638.0 262.5H641.0M638.0 273.5H641.0M637.5 267.0V270.0M641.5 267.0V270.0M641.1 262.5H647.8M643.5 257.4V268.4M642.0 257.5H645.0M642.0 268.5H645.0M641.5 261.0V264.0M647.5 261.0V264.0M647.8 263.5H657.2M652.5 259.8V266.8M651.0 259.5H654.0M651.0 266.5H654.0M647.5 262.0V265.0M657.5 262.0V265.0M657.2 258.5H665.8M662.5 253.7V263.7M661.0 253.5H664.0M661.0 263.5H664.0M657.5 257.0V260.0M665.5 257.0V260.0M665.8 258.5H672.7M669.5 254.4V262.4M668.0 254.5H671.0M668.0 262.5H671.0M665.5 257.0V260.0M672.5 257.0V260.0M672.7 254.5H678.4M675.5 248.9V260.9M674.0 248.5H677.0M674.0 260.5H677.0M672.5 253.0V256.0M678.5 253.0V256.0M678.4 260.5H683.0M681.5 253.5V266.5M680.0 253.5H683.0M680.0 266.5H683.0M678.5 259.0V262.0M682.5 259.0V262.0M683.0 268.5H686.6M684.5 260.7V276.7M683.0 260.5H686.0M683.0 276.5H686.0M682.5 267.0V270.0M686.5 267.0V270.0M686.6 262.5H691.0M688.5 254.1V271.1M687.0 254.5H690.0M687.0 271.5H690.0M686.5 261.0V264.0M690.5 261.0V264.0M691.0 260.5H696.4M693.5 255.6V265.6M692.0 255.5H695.0M692.0 265.5H695.0M690.5 259.0V262.0M696.5 259.0V262.0M696.4 274.5H701.0M699.5 265.1V283.1M698.0 265.5H701.0M698.0 283.5H701.0M696.5 273.0V276.0M701.5 273.0V276.0M701.0 269.5H703.5M703.5 257.6V280.6M702.0 257.5H705.0M702.0 280.5H705.0M701.5 268.0V271.0M703.5 268.0V271.0M703.5 276.5H706.2M704.5 264.5V287.5M703.0 264.5H706.0M703.0 287.5H706.0M703.5 275.0V278.0M706.5 275.0V278.0M706.2 254.5H710.7M708.5 246.7V261.7M707.0 246.5H710.0M707.0 261.5H710.0M706.5 253.0V256.0M710.5 253.0V256.0M710.7 231.5H714.4M713.5 219.8V243.8M712.0 219.5H715.0M712.0 243.5H715.0M710.5 230.0V233.0M714.5 230.0V233.0M714.4 258.5H717.7M715.5 248.0V268.0M714.0 248.5H717.0M714.0 268.5H717.0M714.5 257.0V260.0M717.5 257.0V260.0M717.7 273.5H721.4M719.5 262.2V284.2M718.0 262.5H721.0M718.0 284.5H721.0M717.5 272.0V275.0M721.5 272.0V275.0M721.4 260.5H725.7M723.5 244.6V276.6M722.0 244.5H725.0M722.0 276.5H725.0M721.5 259.0V262.0M725.5 259.0V262.0M725.7 245.5H729.6M728.5 233.0V257.0M727.0 233.5H730.0M727.0 257.5H730.0M725.5 244.0V247.0M729.5 244.0V247.0M729.6 264.5H732.1M731.5 250.6V277.6M730.0 250.5H733.0M730.0 277.5H733.0M729.5 263.0V266.0M732.5 263.0V266.0M732.1 243.5H734.5M733.5 231.5V255.5M732.0 231.5H735.0M732.0 255.5H735.0M732.5 242.0V245.0M734.5 242.0V245.0M734.5 251.5H737.3M735.5 238.9V264.9M734.0 238.5H737.0M734.0 264.5H737.0M734.5 250.0V253.0M737.5 250.0V253.0M737.3 231.5H740.5M739.5 213.8V249.8M738.0 213.5H741.0M738.0 249.5H741.0M737.5 230.0V233.0M740.5 230.0V233.0M740.5 276.5H743.0M742.5 253.3V300.3M741.0 253.5H744.0M741.0 300.5H744.0M740.5 275.0V278.0M743.5 275.0V278.0M743.0 286.5H745.5M744.5 269.0V303.0M743.0 269.5H746.0M743.0 303.5H746.0M743.5 285.0V288.0M745.5 285.0V288.0M745.5 273.5H749.0M747.5 248.2V298.2M746.0 248.5H749.0M746.0 298.5H749.0M745.5 272.0V275.0M748.5 272.0V275.0M749.0 260.5H752.5M750.5 244.3V276.3M749.0 244.5H752.0M749.0 276.5H752.0M748.5 259.0V262.0M752.5 259.0V262.0M752.5 286.5H755.8M754.5 266.2V307.2M753.0 266.5H756.0M753.0 307.5H756.0M752.5 285.0V288.0M755.5 285.0V288.0M755.8 267.5H758.5M757.5 245.1V289.1M756.0 245.5H759.0M756.0 289.5H759.0M755.5 266.0V269.0" stroke="#ff0000" stroke-width="0.75" fill="none" opacity="0.72"/>
<g fill="#f00000"><circle cx="566.5" cy="271.5" r="1.25"/><circle cx="583.5" cy="272.5" r="1.25"/><circle cx="592.5" cy="272.5" r="1.25"/><circle cx="598.5" cy="268.5" r="1.25"/><circle cx="603.5" cy="262.5" r="1.25"/><circle cx="608.5" cy="267.5" r="1.25"/><circle cx="613.5" cy="264.5" r="1.25"/><circle cx="617.5" cy="258.5" r="1.25"/><circle cx="626.5" cy="267.5" r="1.25"/><circle cx="635.5" cy="266.5" r="1.25"/><circle cx="639.5" cy="268.5" r="1.25"/><circle cx="643.5" cy="262.5" r="1.25"/><circle cx="652.5" cy="263.5" r="1.25"/><circle cx="662.5" cy="258.5" r="1.25"/><circle cx="669.5" cy="258.5" r="1.25"/><circle cx="675.5" cy="254.5" r="1.25"/><circle cx="681.5" cy="260.5" r="1.25"/><circle cx="684.5" cy="268.5" r="1.25"/><circle cx="688.5" cy="262.5" r="1.25"/><circle cx="693.5" cy="260.5" r="1.25"/><circle cx="699.5" cy="274.5" r="1.25"/><circle cx="703.5" cy="269.5" r="1.25"/><circle cx="704.5" cy="276.5" r="1.25"/><circle cx="708.5" cy="254.5" r="1.25"/><circle cx="713.5" cy="231.5" r="1.25"/><circle cx="715.5" cy="258.5" r="1.25"/><circle cx="719.5" cy="273.5" r="1.25"/><circle cx="723.5" cy="260.5" r="1.25"/><circle cx="728.5" cy="245.5" r="1.25"/><circle cx="731.5" cy="264.5" r="1.25"/><circle cx="733.5" cy="243.5" r="1.25"/><circle cx="735.5" cy="251.5" r="1.25"/><circle cx="739.5" cy="231.5" r="1.25"/><circle cx="742.5" cy="276.5" r="1.25"/><circle cx="744.5" cy="286.5" r="1.25"/><circle cx="747.5" cy="273.5" r="1.25"/><circle cx="750.5" cy="260.5" r="1.25"/><circle cx="754.5" cy="286.5" r="1.25"/><circle cx="757.5" cy="267.5" r="1.25"/></g>
<line x1="552" y1="274.6" x2="758" y2="251.1" stroke="#404040" stroke-width="0.9"/>
<path d="M552.5 182.6H758.5V316.5H552.5Z" stroke="#686868" stroke-width="1.35" fill="none"/>
<path d="M552.5 182.6h3M758.5 182.6h-3M552.5 227.2h3M758.5 227.2h-3M552.5 271.9h3M758.5 271.9h-3M552.5 316.5h3M758.5 316.5h-3M609.1 182.6v3.5M609.1 316.5v-3M665.8 182.6v3.5M665.8 316.5v-3M722.4 182.6v3.5M722.4 316.5v-3" stroke="#686868" stroke-width="1.1" fill="none"/>
<text x="547.5" y="184.7" font-size="10" text-anchor="end">10</text>
<text x="547.5" y="229.3" font-size="10" text-anchor="end">5</text>
<text x="547.5" y="274.0" font-size="10" text-anchor="end">0</text>
<text x="547.5" y="318.6" font-size="10" text-anchor="end">-5</text>
<text x="551.7" y="328.9" font-size="10" text-anchor="middle">4</text>
<text x="608.3" y="328.9" font-size="10" text-anchor="middle">8</text>
<text x="665.0" y="328.9" font-size="10" text-anchor="middle">16</text>
<text x="721.6" y="328.9" font-size="10" text-anchor="middle">32</text>
<text x="655.0" y="345.8" font-size="9.8" text-anchor="middle">Energy (keV)</text>
<text x="604.4" y="201.8" font-size="9.8">Time-lag (ms) at 10.0 Hz</text>
<text transform="translate(531 284.3) rotate(-90)" font-size="10">Time-lag (ms)</text>
</svg></body></html>
